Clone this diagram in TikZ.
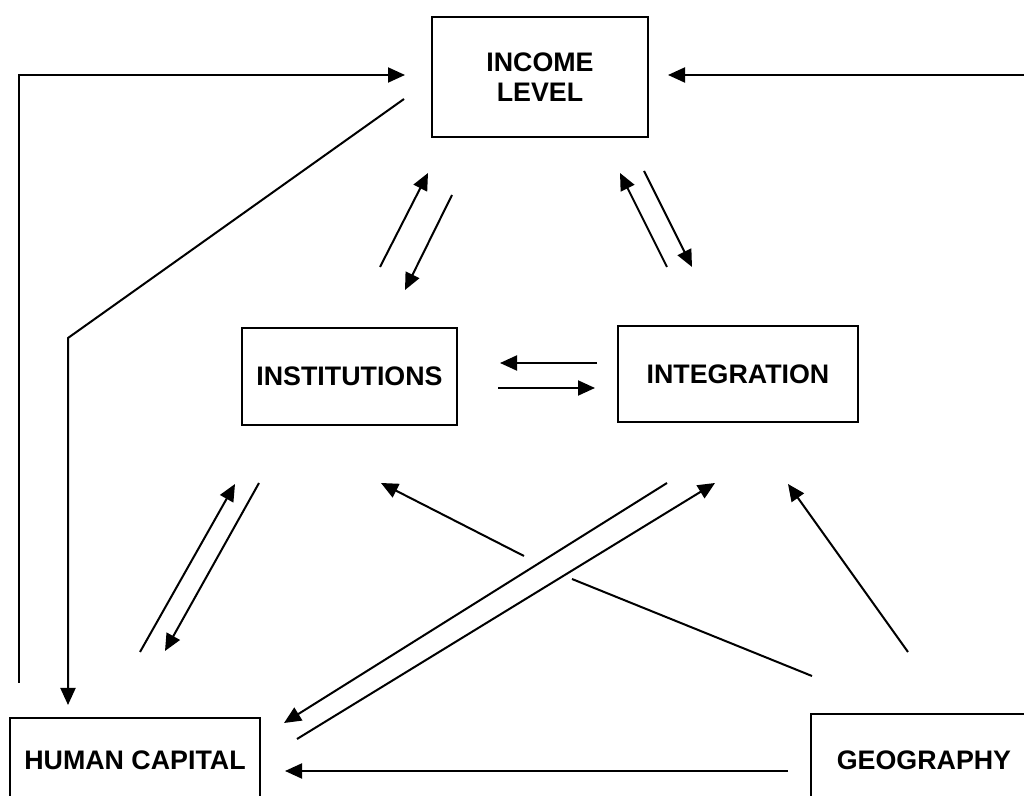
\documentclass[tikz,border=0pt]{standalone}
\usepackage{fontspec}
\setmainfont{Liberation Sans}
\usetikzlibrary{arrows.meta}
\begin{document}
\begin{tikzpicture}[x=0.5pt,y=-0.5pt,
  box/.style={draw, line width=1pt, inner sep=0pt, outer sep=0pt, align=center,
    font=\fontsize{13.4}{15}\selectfont\bfseries},
  conn/.style={line width=1pt, -{Triangle[length=8.5pt,width=7.5pt]}},
  plainline/.style={line width=1pt}]
\useasboundingbox (0,0) rectangle (1024,796);
\clip (0,0) rectangle (1024,796);
% boxes
\node[box, minimum width=108pt, minimum height=60pt] (inc) at (540,77) {INCOME\\LEVEL};
\node[box, minimum width=107.5pt, minimum height=48.5pt] (inst) at (349.5,376.5) {INSTITUTIONS};
\node[box, minimum width=120pt, minimum height=48pt] (int) at (738,374) {INTEGRATION};
\node[box, minimum width=125pt, minimum height=42pt] (hc) at (135,760) {HUMAN CAPITAL};
\node[box, minimum width=113pt, minimum height=46pt] (geo) at (924,760) {GEOGRAPHY};
% connector end points
\coordinate (a1) at (19,683); \coordinate (a2) at (19,75); \coordinate (a3) at (405,75);
\coordinate (b1) at (404,99); \coordinate (b2) at (68,338); \coordinate (b3) at (68,705);
\coordinate (c1) at (1024,75); \coordinate (c2) at (668,75);
\coordinate (d1) at (380,267); \coordinate (d2) at (428,173);
\coordinate (e1) at (452,195); \coordinate (e2) at (405,290);
\coordinate (f1) at (667,267); \coordinate (f2) at (620,173);
\coordinate (g1) at (644,171); \coordinate (g2) at (692,267);
\coordinate (h1) at (597,363); \coordinate (h2) at (500,363);
\coordinate (i1) at (498,388); \coordinate (i2) at (595,388);
\coordinate (j1) at (140,652); \coordinate (j2) at (235,484);
\coordinate (k1) at (259,483); \coordinate (k2) at (165,651);
\coordinate (l1) at (812,676); \coordinate (l2) at (572,579);
\coordinate (l3) at (524,556); \coordinate (l4) at (381,483);
\coordinate (m1) at (667,483); \coordinate (m2) at (284,723);
\coordinate (n1) at (297,739); \coordinate (n2) at (715,483);
\coordinate (o1) at (908,652); \coordinate (o2) at (788,484);
\coordinate (p1) at (788,771); \coordinate (p2) at (285,771);
% connectors
\draw[conn] (a1) -- (a2) -- (a3);
\draw[conn] (b1) -- (b2) -- (b3);
\draw[conn] (c1) -- (c2);
\draw[conn] (d1) -- (d2);
\draw[conn] (e1) -- (e2);
\draw[conn] (f1) -- (f2);
\draw[conn] (g1) -- (g2);
\draw[conn] (h1) -- (h2);
\draw[conn] (i1) -- (i2);
\draw[conn] (j1) -- (j2);
\draw[conn] (k1) -- (k2);
\draw[plainline] (l1) -- (l2);
\draw[conn] (l3) -- (l4);
\draw[conn] (m1) -- (m2);
\draw[conn] (n1) -- (n2);
\draw[conn] (o1) -- (o2);
\draw[conn] (p1) -- (p2);
\end{tikzpicture}
\end{document}
